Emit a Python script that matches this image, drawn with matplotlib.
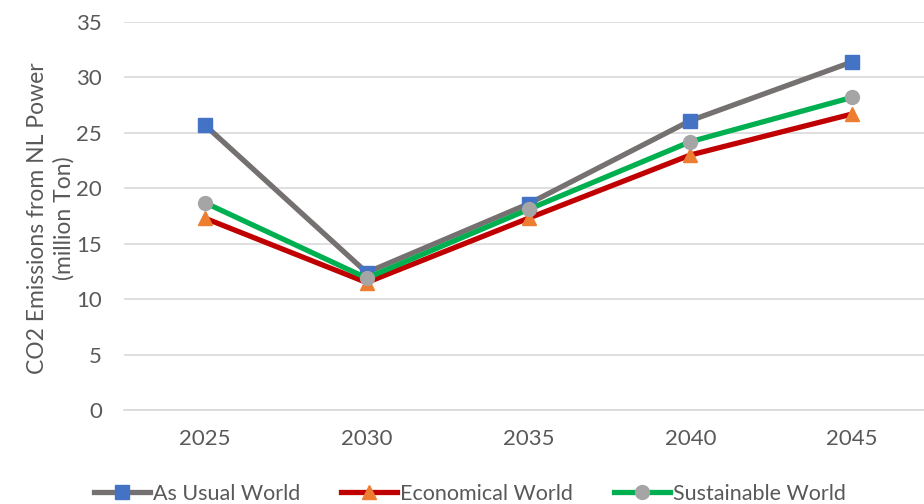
import matplotlib
matplotlib.use("Agg")
import matplotlib.pyplot as plt

years = ["2025", "2030", "2035", "2040", "2045"]
as_usual = [25.7, 12.4, 18.6, 26.1, 31.4]
economical = [17.3, 11.5, 17.3, 23.0, 26.7]
sustainable = [18.7, 11.9, 18.1, 24.2, 28.2]
y_ticks = [0, 5, 10, 15, 20, 25, 30, 35]

plt.rcParams["font.family"] = ["Lato", "DejaVu Sans"]
text_color = "#595959"

fig = plt.figure(figsize=(9.24, 5.04), dpi=100)
ax = fig.add_axes([124 / 924, 1 - 410 / 504, (933 - 124) / 924, (410 - 22) / 504])

x = list(range(len(years)))
series = [
    ("As Usual World", as_usual, "#767171", "s", "#4472C4"),
    ("Economical World", economical, "#C00000", "^", "#ED7D31"),
    ("Sustainable World", sustainable, "#00B050", "o", "#A5A5A5"),
]
for label, vals, lc, mk, mc in series:
    ax.plot(x, vals, color=lc, lw=3.8, marker=mk, markersize=10,
            markerfacecolor=mc, markeredgecolor=mc, label=label,
            solid_joinstyle="round", zorder=3)

ax.set_xlim(-0.5, len(years) - 0.5)
ax.set_ylim(0, 35)
ax.set_yticks(y_ticks)
ax.set_xticks(x)
ax.set_xticklabels(years)
ax.grid(axis="y", color="#D9D9D9", lw=1.2)
ax.set_axisbelow(True)
for s in ["top", "right", "left"]:
    ax.spines[s].set_visible(False)
ax.spines["bottom"].set_color("#D9D9D9")
ax.spines["bottom"].set_linewidth(1.2)
ax.tick_params(axis="both", length=0, labelsize=16, colors=text_color)
ax.tick_params(axis="x", pad=14)
ax.tick_params(axis="y", pad=16)

fig.text(51 / 924, 1 - 218 / 504, "CO2 Emissions from NL Power\n(million Ton)",
         rotation=90, ha="center", va="center", fontsize=16.5, color=text_color,
         linespacing=1.3)

leg = fig.legend(loc="center", bbox_to_anchor=(470 / 924, 1 - 494 / 504), ncol=3,
                 frameon=False, fontsize=15.5, handlelength=2.6, columnspacing=1.9,
                 handletextpad=0.15, labelcolor=text_color)

fig.savefig("out.png", dpi=100)
